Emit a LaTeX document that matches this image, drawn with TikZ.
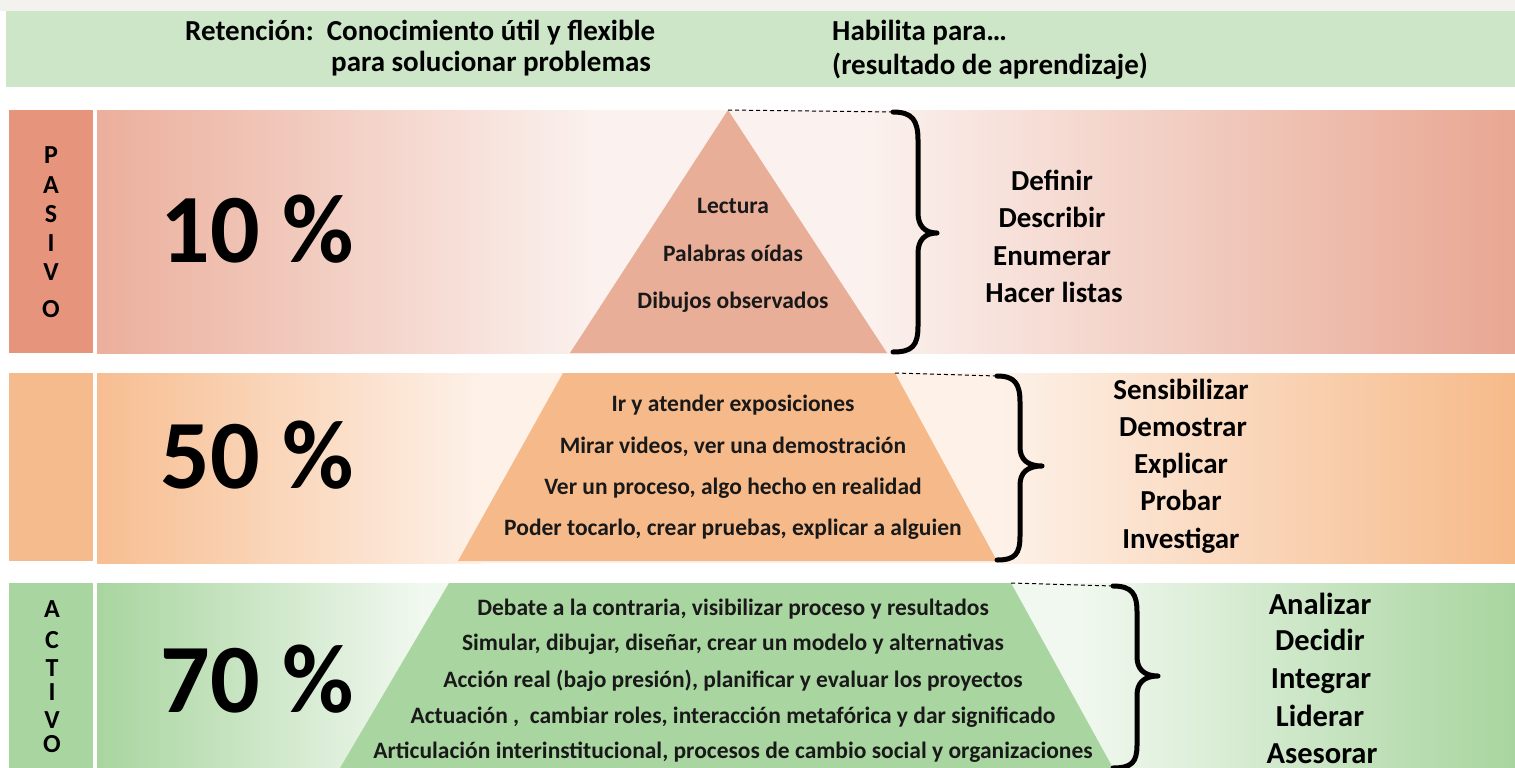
\documentclass[tikz,border=0pt]{standalone}
\usepackage{fontspec}
\setmainfont{Carlito}
\definecolor{topgrey}{HTML}{F3F2EE}
\definecolor{hdrgreen}{HTML}{CDE6C8}
\definecolor{ra}{HTML}{E6957C}
\definecolor{rl}{HTML}{EBAF9C}
\definecolor{rm}{HTML}{FBF2EF}
\definecolor{rr}{HTML}{E8A792}
\definecolor{rt}{HTML}{E9AE98}
\definecolor{oa}{HTML}{F6BB8C}
\definecolor{ol}{HTML}{F7BE91}
\definecolor{om}{HTML}{FDF1E8}
\definecolor{or}{HTML}{F6BA89}
\definecolor{ot}{HTML}{F6BA8A}
\definecolor{ga}{HTML}{A9D5A0}
\definecolor{gl}{HTML}{A8D59F}
\definecolor{gm}{HTML}{F1F8EF}
\definecolor{gr}{HTML}{A8D59F}
\definecolor{gt}{HTML}{A9D6A0}
\begin{document}
\begin{tikzpicture}[x=1pt,y=-1pt,
  hdr/.style={font=\fontsize{29}{29}\selectfont\bfseries, anchor=west, inner sep=0pt},
  pct/.style={font=\fontsize{98}{98}\selectfont\bfseries, inner sep=0pt},
  ptext/.style={font=\fontsize{23.5}{23.5}\selectfont\bfseries, text=black!90, inner sep=0pt, anchor=base, yshift=-7.5pt},
  ptextc/.style={font=\fontsize{23.5}{23.5}\selectfont\bfseries, text=black!90, inner sep=0pt, anchor=base, yshift=-7.5pt},
  word/.style={font=\fontsize{29}{29}\selectfont\bfseries, inner sep=0pt, anchor=base, yshift=-9.5pt},
  wordb/.style={font=\fontsize{30.5}{30.5}\selectfont\bfseries, inner sep=0pt, anchor=base, yshift=-10pt},
  vlet/.style={font=\fontsize{26}{26}\selectfont\bfseries, inner sep=0pt},
  bracepath/.style={line width=5pt, line cap=round, line join=round},
  dashpath/.style={line width=1pt, dash pattern=on 4pt off 3pt}]
\useasboundingbox (0,0) rectangle (1515,768);
\clip (0,0) rectangle (1515,768);
\fill[white] (0,0) rectangle (1515,768);
% top strip and header
\fill[topgrey] (0,0) rectangle (1515,11);
\fill[hdrgreen] (6,11) rectangle (1515,87);
\node[hdr] (h1) at (185,33) {Retención:\ \ Conocimiento útil y flexible};
\node[hdr] (h2) at (331,64) {para solucionar problemas};
\node[hdr] (h3) at (832,33) {Habilita para…};
\node[hdr] (h4) at (832,66) {(resultado de aprendizaje)};
% ---------- row 1 ----------
\fill[ra] (9,110) rectangle (93,353);
\shade[left color=rl, right color=rm] (97,110) rectangle (601,353);
\fill[rm] (600,110) rectangle (861,353);
\shade[left color=rm, right color=rr] (860,110) rectangle (1515,353);
\coordinate (t1) at (728,110);
\fill[rt] (t1) -- (887,353) -- (570,353) -- cycle;
\coordinate (b1) at (893,112);
\draw[dashpath] (t1) -- (b1);
\draw[bracepath] (b1) .. controls (912,112) and (918,120) .. (918,140) -- (918,213)
  .. controls (918,226) and (925,233) .. (937,233)
  .. controls (925,233) and (918,240) .. (918,253) -- (918,326)
  .. controls (918,346) and (912,352) .. (893,352);
\foreach \l/\y [count=\i] in {P/155,A/185,S/214,I/243,V/272,O/309}
  \node[vlet] (pa\i) at (51,\y) {\l};
\node[pct] (p1) at (257,229) {10 \%};
\node[ptext] (l11) at (733,206) {Lectura};
\node[ptext] (l12) at (733,254) {Palabras oídas};
\node[ptext] (l13) at (733,301) {Dibujos observados};
\node[word] (w11) at (1052,181) {Definir};
\node[word] (w12) at (1052,218) {Describir};
\node[word] (w13) at (1052,256) {Enumerar};
\node[word] (w14) at (1054,293) {Hacer listas};
% ---------- row 2 ----------
\fill[oa] (9,373) rectangle (93,561);
\shade[left color=ol, right color=om] (97,373) rectangle (481,563);
\fill[om] (480,373) rectangle (1001,563);
\shade[left color=om, right color=or] (1000,373) rectangle (1515,563);
\coordinate (t2) at (895,373);
\fill[ot] (563,373) -- (t2) -- (997,561) -- (458,561) -- cycle;
\coordinate (b2) at (997,376);
\draw[dashpath] (t2) -- (b2);
\draw[bracepath] (b2) .. controls (1015,376) and (1020,384) .. (1020,402) -- (1020,447)
  .. controls (1020,459) and (1027,466) .. (1042,466)
  .. controls (1027,466) and (1020,473) .. (1020,485) -- (1020,536)
  .. controls (1020,554) and (1015,560) .. (997,560);
\node[pct] (p2) at (257,455) {50 \%};
\node[ptext] (l21) at (733,404) {Ir y atender exposiciones};
\node[ptext] (l22) at (733,446) {Mirar videos, ver una demostración};
\node[ptext] (l23) at (733,487) {Ver un proceso, algo hecho en realidad};
\node[ptext] (l24) at (733,528) {Poder tocarlo, crear pruebas, explicar a alguien};
\node[word] (w21) at (1181,390) {Sensibilizar};
\node[word] (w22) at (1183,427) {Demostrar};
\node[word] (w23) at (1181,464) {Explicar};
\node[word] (w24) at (1181,501) {Probar};
\node[word] (w25) at (1181,539) {Investigar};
% ---------- row 3 ----------
\fill[ga] (9,583) rectangle (93,768);
\shade[left color=gl, right color=gm] (97,583) rectangle (421,768);
\fill[gm] (420,583) rectangle (1081,768);
\shade[left color=gm, right color=gr] (1080,583) rectangle (1515,768);
\coordinate (t3) at (1011,583);
\fill[gt] (449,583) -- (t3) -- (1113,768) -- (340,768) -- cycle;
\coordinate (b3) at (1113,586);
\draw[dashpath] (t3) -- (b3);
\draw[bracepath] (b3) .. controls (1132,586) and (1137,594) .. (1137,612) -- (1137,657)
  .. controls (1137,669) and (1144,676) .. (1158,676)
  .. controls (1144,676) and (1137,683) .. (1137,695) -- (1137,745)
  .. controls (1137,762) and (1132,768) .. (1113,768);
\foreach \l/\y [count=\i] in {A/609,C/640,T/668,I/692,V/720,O/744}
  \node[vlet] (ac\i) at (52,\y) {\l};
\node[pct] (p3) at (257,679) {70 \%};
\node[ptextc] (l31) at (733,608) {Debate a la contraria, visibilizar proceso y resultados};
\node[ptextc] (l32) at (733,643) {Simular, dibujar, diseñar, crear un modelo y alternativas};
\node[ptextc] (l33) at (733,680) {Acción real (bajo presión), planificar y evaluar los proyectos};
\node[ptextc] (l34) at (733,716) {Actuación ,\ \ cambiar roles, interacción metafórica y dar significado};
\node[ptextc] (l35) at (733,751) {Articulación interinstitucional, procesos de cambio social y organizaciones};
\node[wordb] (w31) at (1320,604) {Analizar};
\node[wordb] (w32) at (1320,640) {Decidir};
\node[wordb] (w33) at (1321,678) {Integrar};
\node[wordb] (w34) at (1320,716) {Liderar};
\node[wordb] (w35) at (1322,753) {Asesorar};
\end{tikzpicture}
\end{document}
